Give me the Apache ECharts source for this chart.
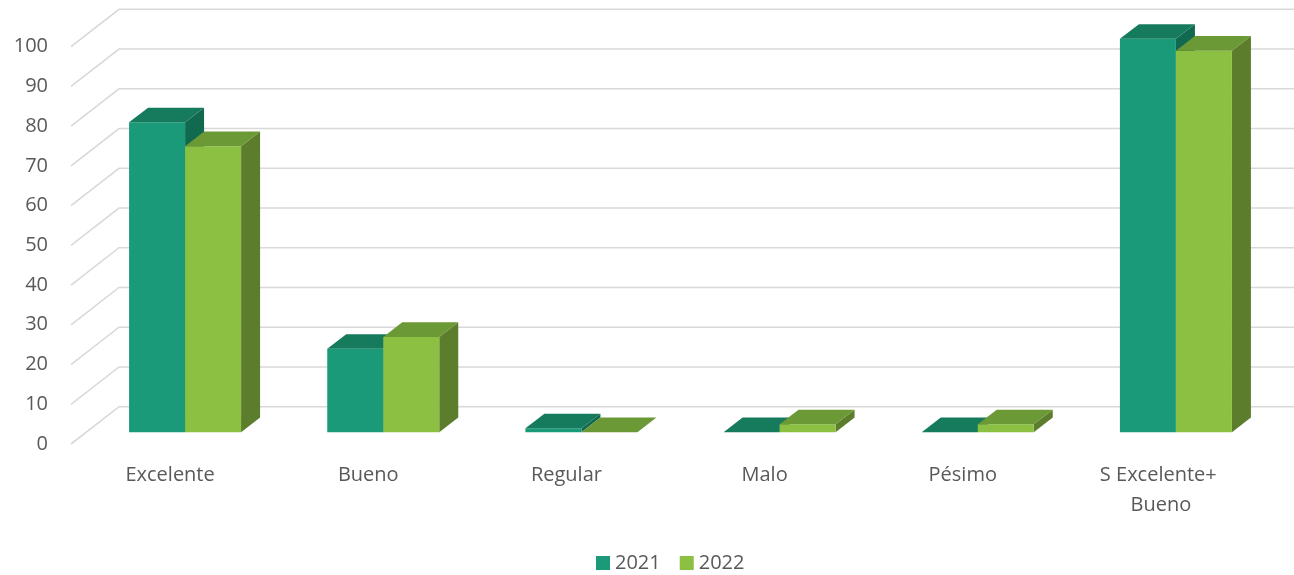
<!DOCTYPE html>
<html>
<head>
<meta charset="utf-8">
<script src="https://cdn.jsdelivr.net/npm/echarts@6/dist/echarts.min.js"></script>
<style>
  html, body { margin: 0; padding: 0; background: #ffffff; }
  #chart { width: 1294px; height: 575px; }
</style>
</head>
<body>
<div id="chart"></div>
<script>
// Categories, series values and tick values
const categories = ['Excelente', 'Bueno', 'Regular', 'Malo', 'Pésimo', 'S Excelente+ Bueno'];
const values2021 = [78, 21, 1, 0, 0, 99];
const values2022 = [72, 24, 0, 2, 2, 96];
const yTicks = [0, 10, 20, 30, 40, 50, 60, 70, 80, 90, 100];

// Oblique 3D projection: floor depth and bar depth in pixels
const FLOOR_DX = 48, FLOOR_DY = -37.3;
const BAR_OFF_DX = 15, BAR_OFF_DY = -11.7;   // front face of bars sits inside the floor
const BAR_DX = 19, BAR_DY = -14.7;           // bar depth
const BAR_RATIO = 0.2826;                    // bar width as share of the category band

const palette = {
  '2021': { front: '#1b9a7a', top: '#167a5c', side: '#11694f' },
  '2022': { front: '#8bc043', top: '#6b9935', side: '#5b7d2c' }
};

const FONT = '"Open Sans", "Noto Sans", sans-serif';
const TEXT_COLOR = '#595959';

function wallRenderer(params, api) {
  const cs = params.coordSys;
  const v = api.value(0);
  const y = api.coord([0, v])[1];
  const x0 = cs.x, x1 = cs.x + cs.width;
  return {
    type: 'polyline',
    shape: { points: [[x0, y], [x0 + FLOOR_DX, y + FLOOR_DY], [x1 + FLOOR_DX, y + FLOOR_DY]] },
    style: { stroke: '#d9d9d9', lineWidth: 1.6, fill: null },
    silent: true
  };
}

function barRenderer(year, slot) {
  const col = palette[year];
  return function (params, api) {
    const idx = api.value(0);
    const val = api.value(1);
    const base = api.coord([idx, 0]);
    const top = api.coord([idx, val]);
    const band = api.size([1, 0])[0];
    const w = band * BAR_RATIO;
    const cx = base[0] + BAR_OFF_DX;
    const x = slot === 0 ? cx - w : cx;
    const yB = base[1] + BAR_OFF_DY;
    const yT = top[1] + BAR_OFF_DY;
    const children = [];
    // side face
    children.push({
      type: 'polygon',
      shape: { points: [[x + w, yT], [x + w + BAR_DX, yT + BAR_DY], [x + w + BAR_DX, yB + BAR_DY], [x + w, yB]] },
      style: { fill: col.side }
    });
    // front face
    if (yB - yT > 0) {
      children.push({
        type: 'rect',
        shape: { x: x, y: yT, width: w, height: yB - yT },
        style: { fill: col.front }
      });
    }
    // top face
    children.push({
      type: 'polygon',
      shape: { points: [[x, yT], [x + w, yT], [x + w + BAR_DX, yT + BAR_DY], [x + BAR_DX, yT + BAR_DY]] },
      style: { fill: col.top }
    });
    return { type: 'group', children: children };
  };
}

const chart = echarts.init(document.getElementById('chart'), null, { renderer: 'canvas' });

chart.setOption({
  backgroundColor: '#ffffff',
  animation: false,
  textStyle: { fontFamily: FONT },
  grid: { left: 71, right: 34, top: 46.6, bottom: 131 },
  legend: {
    data: ['2021', '2022'],
    left: 591,
    top: 547,
    icon: 'rect',
    itemWidth: 14,
    itemHeight: 14,
    itemGap: 19,
    textStyle: { fontFamily: FONT, fontSize: 20, color: TEXT_COLOR, lineHeight: 22 }
  },
  xAxis: {
    type: 'category',
    data: categories,
    axisLine: { show: false },
    axisTick: { show: false },
    splitLine: { show: false },
    axisLabel: {
      margin: 16,
      fontFamily: FONT,
      fontSize: 20,
      color: TEXT_COLOR,
      lineHeight: 30,
      width: 140,
      overflow: 'break',
      interval: 0
    }
  },
  yAxis: {
    type: 'value',
    min: 0,
    max: 100,
    interval: 10,
    axisLine: { show: false },
    axisTick: { show: false },
    splitLine: { show: false },
    axisLabel: { margin: 23, fontFamily: FONT, fontSize: 20, color: TEXT_COLOR }
  },
  series: [
    {
      name: 'walls',
      type: 'custom',
      clip: false,
      silent: true,
      z: 1,
      data: yTicks.map(v => [v]),
      renderItem: wallRenderer
    },
    {
      name: '2021',
      type: 'custom',
      clip: false,
      z: 2,
      itemStyle: { color: palette['2021'].front },
      data: values2021.map((v, i) => [i, v]),
      encode: { x: 0, y: 1 },
      renderItem: barRenderer('2021', 0)
    },
    {
      name: '2022',
      type: 'custom',
      clip: false,
      z: 3,
      itemStyle: { color: palette['2022'].front },
      data: values2022.map((v, i) => [i, v]),
      encode: { x: 0, y: 1 },
      renderItem: barRenderer('2022', 1)
    }
  ]
});
</script>
</body>
</html>
